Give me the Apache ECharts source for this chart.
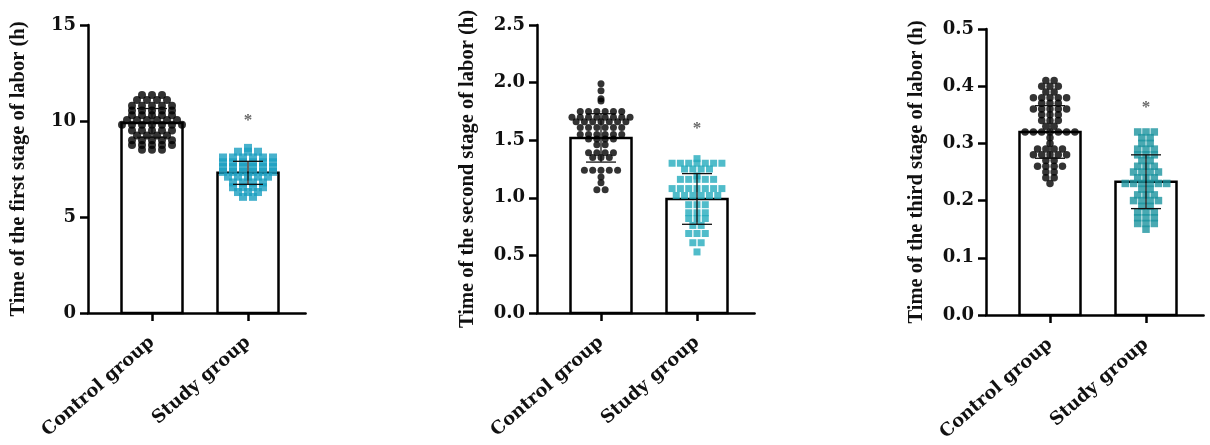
<!DOCTYPE html>
<html>
<head>
<meta charset="utf-8">
<script src="https://cdn.jsdelivr.net/npm/echarts@6/dist/echarts.min.js"></script>
<style>html,body{margin:0;padding:0;background:#fff;}#c{width:1210px;height:445px;}</style>
</head>
<body>
<div id="c"></div>
<script>
// ---------------- data ----------------
const categories = ['Control group', 'Study group'];
const yTitles = [
  'Time of the first stage of labor (h)',
  'Time of the second stage of labor (h)',
  'Time of the third stage of labor (h)'
];
// y-axis ticks (min, max, interval)
const yTicks1 = [0, 5, 10, 15];
const yTicks2 = [0, 0.5, 1.0, 1.5, 2.0, 2.5];
const yTicks3 = [0, 0.1, 0.2, 0.3, 0.4, 0.5];

// panel 1: first stage
const p1Control = [11.35,11.35,11.35, 11.1,11.1,11.1,11.1, 10.8,10.8,10.8,10.8,10.8,
  10.55,10.55,10.55,10.55,10.55, 10.3,10.3,10.3,10.3,10.3, 10.05,10.05,10.05,10.05,10.05,10.05,
  9.8,9.8,9.8,9.8,9.8,9.8,9.8, 9.5,9.5,9.5,9.5,9.5, 9.25,9.25,9.25,9.25,
  9.0,9.0,9.0,9.0,9.0, 8.75,8.75,8.75,8.75,8.75, 8.5,8.5,8.5];
const p1Study = [8.6, 8.4,8.4,8.4, 8.1,8.1,8.1,8.1,8.1,8.1, 7.85,7.85,7.85,7.85,7.85,7.85,
  7.6,7.6,7.6,7.6,7.6,7.6, 7.35,7.35,7.35,7.35,7.35,7.35, 7.1,7.1,7.1,7.1,7.1,
  6.8,6.8,6.8,6.8, 6.55,6.55,6.55,6.55, 6.3,6.3,6.3, 6.05,6.05];
const p1Means = [9.9, 7.3];
const p1SD = [0.75, 0.6];
const p1Star = 10.0;

// panel 2: second stage
const p2Control = [1.99, 1.93, 1.86, 1.84, 1.75,1.75,1.75,1.75,1.75,1.75,
  1.70,1.70,1.70,1.70,1.70,1.70,1.70,1.70, 1.66,1.66,1.66,1.66,1.66,1.66,1.66,
  1.61,1.61,1.61,1.61,1.61,1.61, 1.55,1.55,1.55,1.55,1.55,1.55, 1.51,1.51,1.51,1.51,
  1.46,1.46, 1.39,1.39,1.39,1.39, 1.35,1.35,1.35, 1.24,1.24,1.24,1.24,1.24,
  1.18, 1.13, 1.07,1.07];
const p2Study = [1.34, 1.30,1.30,1.30,1.30,1.30,1.30,1.30, 1.25,1.25,1.25,1.25, 1.19,
  1.16,1.16,1.16,1.16,1.16, 1.08,1.08,1.08,1.08,1.08,1.08,1.08, 1.02,1.02,1.02,1.02,1.02,1.02,
  0.94,0.94,0.94, 0.87,0.87,0.87, 0.82,0.82,0.82, 0.76,0.76, 0.69,0.69,0.69, 0.61,0.61, 0.53];
const p2Means = [1.52, 0.99];
const p2SD = [0.21, 0.22];
const p2Star = 1.6;

// panel 3: third stage
const p3Control = [0.41,0.41, 0.40,0.40,0.40, 0.39,0.39, 0.38,0.38,0.38,0.38,0.38,
  0.37,0.37,0.37, 0.36,0.36,0.36,0.36,0.36, 0.35,0.35,0.35, 0.34,0.34,0.34, 0.33,0.33,
  0.32,0.32,0.32,0.32,0.32,0.32,0.32, 0.31, 0.30, 0.29,0.29,0.29,0.29,
  0.28,0.28,0.28,0.28,0.28, 0.27,0.27, 0.26,0.26,0.26,0.26, 0.25,0.25, 0.24,0.24, 0.23];
const p3Study = [0.32,0.32,0.32, 0.31,0.31, 0.30,0.30, 0.29,0.29,0.29, 0.28,0.28,0.28,
  0.27,0.27, 0.26,0.26,0.26, 0.25,0.25,0.25,0.25, 0.24,0.24,0.24,
  0.23,0.23,0.23,0.23,0.23,0.23, 0.22,0.22, 0.21,0.21,0.21, 0.20,0.20,0.20,0.20,
  0.19,0.19, 0.18,0.18,0.18, 0.17,0.17,0.17, 0.16,0.16,0.16, 0.15];
const p3Means = [0.32, 0.233];
const p3SD = [0.046, 0.047];
const p3Star = 0.362;

// ---------------- styling / layout ----------------
const FONT = '"Liberation Serif", "DejaVu Serif", serif';
const WIDE = '"DejaVu Serif", "Liberation Serif", serif';
const PX_PER_CAT = 96;        // pixel distance between the two categories
const X_MIN = 1 - 64 / 96, X_MAX = 2.6;
const panels = [
  {left: 88,  top: 25, bottom: 132, ticks: yTicks1, interval: 5,   dec: 0, ctrl: p1Control, study: p1Study, means: p1Means, sd: p1SD, star: p1Star, dot: 8, gap: 10,  teal: '#1a9fc0'},
  {left: 537, top: 25, bottom: 132, ticks: yTicks2, interval: 0.5, dec: 1, ctrl: p2Control, study: p2Study, means: p2Means, sd: p2SD, star: p2Star, dot: 7, gap: 8.3, teal: '#24abbd'},
  {left: 986, top: 29, bottom: 130, ticks: yTicks3, interval: 0.1, dec: 1, ctrl: p3Control, study: p3Study, means: p3Means, sd: p3SD, star: p3Star, dot: 7.5, gap: 8.3, teal: '#1b939f'}
];

// horizontal spread of equal values (scatter-dot layout)
function swarm(values, center, gapPx) {
  const rows = new Map();
  values.forEach(v => { const k = v.toFixed(4); if (!rows.has(k)) rows.set(k, []); rows.get(k).push(v); });
  const out = [];
  const step = gapPx / PX_PER_CAT;
  rows.forEach(list => {
    const n = list.length;
    list.forEach((v, i) => out.push([center + (i - (n - 1) / 2) * step, v]));
  });
  return out;
}

const grids = [], xAxes = [], yAxes = [], series = [];
panels.forEach((p, i) => {
  grids.push({left: p.left, top: p.top, bottom: p.bottom, width: (X_MAX - X_MIN) * PX_PER_CAT});
  xAxes.push({
    type: 'value', gridIndex: i, min: X_MIN, max: X_MAX,
    axisLine: {show: true, lineStyle: {color: '#000', width: 2.5}},
    axisTick: {show: true, customValues: [1, 2], length: 8, lineStyle: {color: '#000', width: 2.5}},
    axisLabel: {show: true, customValues: [1, 2], formatter: v => categories[Math.round(v) - 1] || '',
      rotate: 41, margin: 27, color: '#111', fontFamily: WIDE, fontWeight: 'bold', fontSize: 18},
    splitLine: {show: false}
  });
  yAxes.push({
    type: 'value', gridIndex: i, min: p.ticks[0], max: p.ticks[p.ticks.length - 1], interval: p.interval,
    name: yTitles[i], nameLocation: 'middle', nameGap: 59,
    nameTextStyle: {color: '#111', fontFamily: FONT, fontWeight: 'bold', fontSize: 20.5},
    axisLine: {show: true, lineStyle: {color: '#000', width: 2.5}},
    axisTick: {show: true, length: 8, lineStyle: {color: '#000', width: 2.5}},
    axisLabel: {color: '#111', fontFamily: WIDE, fontWeight: 'bold', fontSize: 18, margin: 12,
      formatter: v => v.toFixed(p.dec)},
    splitLine: {show: false}
  });
  // bars
  series.push({
    type: 'custom', xAxisIndex: i, yAxisIndex: i, z: 1,
    data: p.means.map((m, k) => [k + 1, m]),
    renderItem: (params, api) => {
      const c = api.coord([api.value(0), api.value(1)]);
      const c0 = api.coord([api.value(0), 0]);
      const w = 61;
      return {type: 'rect', shape: {x: c[0] - w / 2, y: c[1], width: w, height: c0[1] - c[1]},
        style: {fill: '#fff', stroke: '#000', lineWidth: 2.5}};
    }
  });
  // dots
  series.push({type: 'scatter', xAxisIndex: i, yAxisIndex: i, z: 2, symbol: 'circle', symbolSize: p.dot,
    itemStyle: {color: '#000'}, data: swarm(p.ctrl, 1, p.gap)});
  series.push({type: 'scatter', xAxisIndex: i, yAxisIndex: i, z: 2, symbol: 'rect', symbolSize: p.dot,
    itemStyle: {color: p.teal}, data: swarm(p.study, 2, p.gap)});
  // error bars (mean ± SD)
  series.push({
    type: 'custom', xAxisIndex: i, yAxisIndex: i, z: 3,
    data: p.means.map((m, k) => [k + 1, m, p.sd[k]]),
    renderItem: (params, api) => {
      const x = api.value(0), m = api.value(1), s = api.value(2);
      const t = api.coord([x, m + s]), b = api.coord([x, m - s]);
      const cap = 30;
      const st = {stroke: '#111', lineWidth: 1.3};
      return {type: 'group', children: [
        {type: 'line', shape: {x1: t[0], y1: t[1], x2: b[0], y2: b[1]}, style: st},
        {type: 'line', shape: {x1: t[0] - cap / 2, y1: t[1], x2: t[0] + cap / 2, y2: t[1]}, style: st},
        {type: 'line', shape: {x1: b[0] - cap / 2, y1: b[1], x2: b[0] + cap / 2, y2: b[1]}, style: st}
      ]};
    }
  });
  // significance asterisk
  series.push({type: 'scatter', xAxisIndex: i, yAxisIndex: i, z: 4, symbolSize: 1,
    itemStyle: {color: 'rgba(0,0,0,0)'}, silent: true,
    label: {show: true, position: 'inside', formatter: '*', color: '#444', fontFamily: FONT, fontSize: 17, fontWeight: 'bold'},
    data: [[2, p.star]]});
});

const chart = echarts.init(document.getElementById('c'), null, {renderer: 'canvas'});
chart.setOption({animation: false, backgroundColor: '#fff', grid: grids, xAxis: xAxes, yAxis: yAxes, series: series});
</script>
</body>
</html>
